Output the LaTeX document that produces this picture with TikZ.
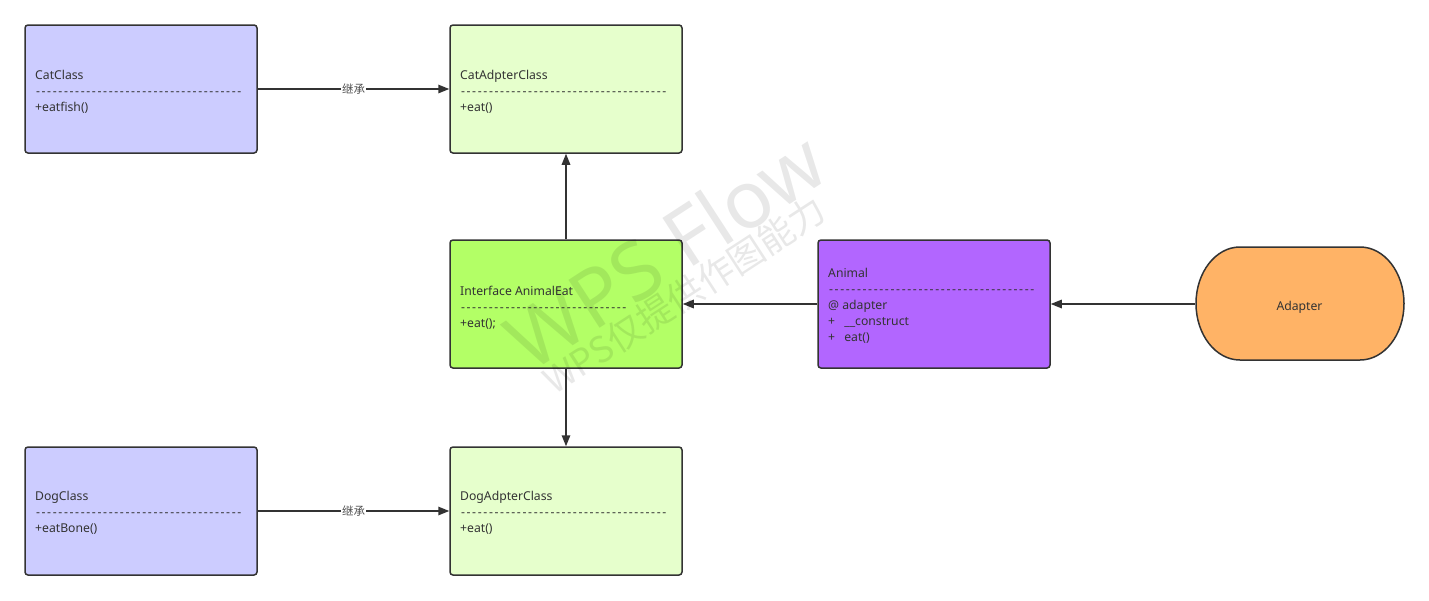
\documentclass[tikz,border=0pt]{standalone}
\usepackage{fontspec}
\setmainfont{Noto Sans}
\newfontfamily\cjk{Noto Sans CJK SC}
\usetikzlibrary{arrows.meta}
\definecolor{edgec}{HTML}{333333}
\definecolor{txtc}{HTML}{333333}
\definecolor{cblue}{HTML}{CCCCFF}
\definecolor{clgreen}{HTML}{E6FFCC}
\definecolor{cgreen}{HTML}{B3FF66}
\definecolor{cpurple}{HTML}{B266FF}
\definecolor{corange}{HTML}{FFB366}
\newcommand{\dashrow}[1]{\hbox to #1{\xleaders\hbox{\kern0.8pt-\kern0.8pt}\hfill}}
\tikzset{
  box/.style={draw=edgec, line width=1.5pt, rounded corners=3pt, minimum width=232pt, minimum height=128pt, inner sep=0pt},
  txt/.style={anchor=base west, inner sep=0pt, text=txtc, font=\fontsize{12.2}{14}\selectfont},
  conn/.style={draw=edgec, line width=1.5pt, -{Triangle[length=11pt,width=8.5pt]}},
  elabel/.style={fill=white, inner sep=1pt, text=txtc!85, font=\cjk\fontsize{11.5}{13}\selectfont},
}
\begin{document}
\begin{tikzpicture}[x=1pt,y=1pt]
\useasboundingbox (0,0) rectangle (1429,-600);
\fill[white] (0,0) rectangle (1429,-600);

% boxes
\node[box, fill=cblue]   (cat)    at (141,-89)  {};
\node[box, fill=clgreen] (catad)  at (566,-89)  {};
\node[box, fill=cgreen]  (iface)  at (566,-304) {};
\node[box, fill=cpurple] (animal) at (934,-304) {};
\node[box, fill=cblue]   (dog)    at (141,-511) {};
\node[box, fill=clgreen] (dogad)  at (566,-511) {};

% adapter (stadium)
\draw[draw=edgec, line width=1.5pt, fill=corange]
  (1240,-247) -- (1360,-247)
  arc[start angle=90, end angle=-90, x radius=44, y radius=56.5]
  -- (1240,-360)
  arc[start angle=270, end angle=90, x radius=44, y radius=56.5] -- cycle;
\node[minimum width=209pt, minimum height=113pt, inner sep=0pt, text depth=0pt, text=txtc, font=\fontsize{12.2}{14}\selectfont] (adp) at (1299.5,-306) {Adapter};

% texts
\node[txt] (catT)  at (35,-79.5)  {CatClass};
\node[txt] (catD)  at (35,-95)  {\dashrow{207pt}};
\node[txt] (catM)  at (35,-111.5) {+eatfish()};

\node[txt] (catadT) at (460,-79.5)  {CatAdpterClass};
\node[txt] (catadD) at (460,-95)  {\dashrow{207pt}};
\node[txt] (catadM) at (460,-111.5) {+eat()};

\node[txt] (ifT) at (460,-295.5) {Interface AnimalEat};
\node[txt] (ifD) at (460,-311) {\dashrow{167pt}};
\node[txt] (ifM) at (460,-327.5) {+eat();};

\node[txt] (anT)  at (828,-277.5) {Animal};
\node[txt] (anD)  at (828,-293) {\dashrow{207pt}};
\node[txt] (anM1) at (828,-309.5) {@ adapter};
\node[txt] (anM2) at (828,-325.5) {+\hspace{0.75em}\_\_construct};
\node[txt] (anM3) at (828,-341.5) {+\hspace{0.75em}eat()};

\node[txt] (dogT) at (35,-500.5) {DogClass};
\node[txt] (dogD) at (35,-516) {\dashrow{207pt}};
\node[txt] (dogM) at (35,-532.5) {+eatBone()};

\node[txt] (dogadT) at (460,-500.5) {DogAdpterClass};
\node[txt] (dogadD) at (460,-516) {\dashrow{207pt}};
\node[txt] (dogadM) at (460,-532.5) {+eat()};

% connectors
\draw[conn] (cat.east) -- node[elabel] (l1) {继承} (catad.west);
\draw[conn] (dog.east) -- node[elabel] (l2) {继承} (dogad.west);
\draw[conn] (iface.north) -- (catad.south);
\draw[conn] (iface.south) -- (dogad.north);
\draw[conn] (animal.west) -- (iface.east);
\draw[conn] (adp.west |- animal.east) -- (animal.east);

% watermark
\node[rotate=33, text=black, opacity=0.09, font=\fontsize{80}{82}\selectfont, inner sep=0pt] (wm1) at (665,-250) {WPS Flow};
\node[rotate=33, text=black, opacity=0.09, font=\cjk\fontsize{36}{40}\selectfont, inner sep=0pt] (wm2) at (684,-295) {WPS仅提供作图能力};
\end{tikzpicture}
\end{document}
